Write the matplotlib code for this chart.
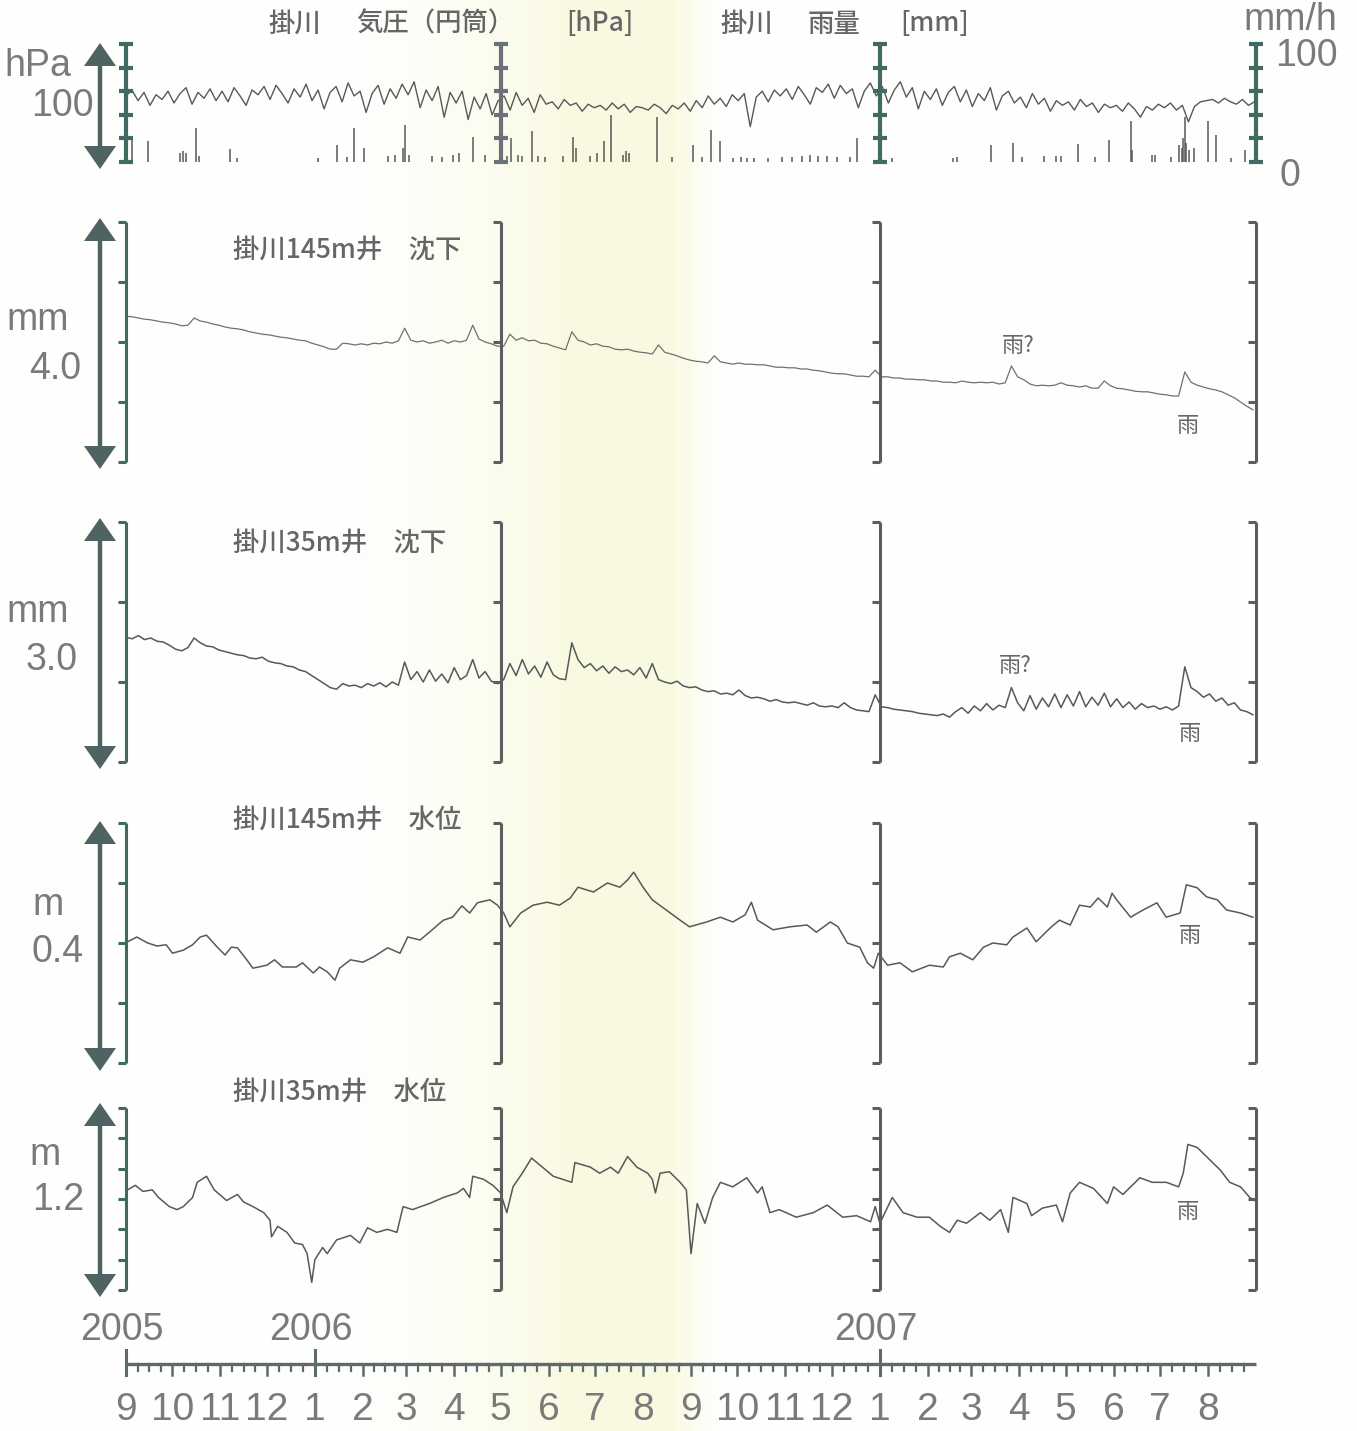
import numpy as np
import pandas as pd
import matplotlib
matplotlib.use("Agg")
import matplotlib.pyplot as plt
import matplotlib.dates as mdates

W, H = 1357, 1431
START = pd.Timestamp("2005-09-01")
END = pd.Timestamp("2007-09-01")

# ---------------- data ----------------
# Kakegawa barometric pressure [hPa], evenly sampled over the period
pressure_hpa = [
    1016, 1021, 1012, 1019, 1008, 1017, 1013, 1020,
    1010, 1018, 1023, 1009, 1019, 1014, 1022, 1012,
    1020, 1011, 1023, 1016, 1008, 1021, 1017, 1024,
    1013, 1025, 1018, 1010, 1022, 1015, 1026, 1012,
    1021, 1005, 1019, 1024, 1011, 1027, 1016, 1020,
    1002, 1018, 1025, 1009, 1022, 1014, 1026,
    1017, 1028, 1006, 1021, 1012, 1024, 998, 1019,
    1010, 1020, 996, 1015, 1005, 1018, 1000, 1012,
    1016, 1004, 1019, 1008, 1014, 1002, 1017, 1009,
    1011, 1005, 1013, 1008, 1010, 1003, 1009, 1006,
    1008, 1004, 1010, 1005, 1009, 1002, 1007, 1006,
    1004, 1009, 1006, 1001, 1008, 1005, 1010,
    1003, 1012, 1006, 1016, 1009, 1014, 1007, 1017,
    1012, 1018, 990, 1015, 1020, 1011, 1021, 1016,
    1022, 1013, 1024, 1017, 1009, 1023, 1019, 1026,
    1014, 1025, 1018, 1022, 1006, 1020, 1027, 1016,
    1024, 1010, 1021, 1028, 1015, 1023, 1005, 1020,
    1013, 1022, 1008, 1019, 1024, 1011, 1021,
    1007, 1018, 1012, 1023, 1004, 1016, 1020, 1010,
    1015, 1006, 1018, 1009, 1014, 1003, 1012, 1008,
    1011, 1004, 1013, 1007, 1010, 1002, 1009, 1006,
    1008, 1003, 1010, 1005, 998, 1007, 1004, 1009,
    1006, 1010, 1004, 1008, 994, 1007, 1011, 1012,
    1013, 1010, 1014, 1011, 1009, 1013, 1008, 1011,
]

# Kakegawa hourly rainfall peaks [mm/h]
rain_dates = [
    "2005-09-05", "2005-09-15", "2005-10-06", "2005-10-08", "2005-10-10", "2005-10-16",
    "2005-10-18", "2005-11-07", "2005-11-12", "2006-01-03", "2006-01-15", "2006-01-22",
    "2006-01-26", "2006-02-02", "2006-02-17", "2006-02-22", "2006-02-27", "2006-02-28",
    "2006-03-03", "2006-03-18", "2006-03-24", "2006-03-31", "2006-04-04", "2006-04-13",
    "2006-04-21", "2006-05-05", "2006-05-08", "2006-05-12", "2006-05-15", "2006-05-21",
    "2006-05-25", "2006-05-30", "2006-06-10", "2006-06-17", "2006-06-19", "2006-06-28",
    "2006-07-02", "2006-07-07", "2006-07-11", "2006-07-19", "2006-07-21", "2006-07-23",
    "2006-08-10", "2006-08-20", "2006-09-02", "2006-09-08", "2006-09-14", "2006-09-20",
    "2006-09-28", "2006-10-03", "2006-10-07", "2006-10-12", "2006-10-21", "2006-10-30",
    "2006-11-05", "2006-11-12", "2006-11-17", "2006-11-22", "2006-11-28", "2006-12-04",
    "2006-12-13", "2006-12-17", "2007-01-09", "2007-02-17", "2007-02-20", "2007-03-14",
    "2007-03-28", "2007-04-03", "2007-04-17", "2007-04-25", "2007-04-28", "2007-05-09",
    "2007-05-20", "2007-05-29", "2007-06-12", "2007-06-13", "2007-06-26", "2007-06-28",
    "2007-07-08", "2007-07-13", "2007-07-15", "2007-07-16", "2007-07-17", "2007-07-18",
    "2007-07-20", "2007-07-23", "2007-08-01", "2007-08-06", "2007-08-16", "2007-08-25",
]
rain_mmh = [
    19, 18, 8, 9, 8, 29,
    5, 11, 3, 3, 14, 4,
    29, 12, 5, 6, 12, 31,
    6, 5, 4, 6, 8, 21,
    6, 5, 20, 6, 5, 26,
    5, 4, 5, 21, 12, 5,
    8, 18, 40, 6, 9, 8,
    38, 4, 14, 4, 27, 18,
    3, 4, 3, 3, 3, 4,
    4, 5, 6, 5, 5, 4,
    4, 20, 3, 3, 4, 14,
    16, 4, 5, 5, 5, 15,
    4, 19, 35, 10, 6, 6,
    4, 14, 12, 20, 38, 16,
    10, 12, 35, 23, 3, 10,
]

# strain-meter subsidence, one reading every 4 days from START [mm]
sub145_mm = [
    2.43, 2.42, 2.40, 2.38, 2.37, 2.35, 2.33, 2.32, 2.30, 2.27, 2.28,
    2.40, 2.35, 2.33, 2.30, 2.28, 2.25, 2.23, 2.22, 2.20, 2.17,
    2.15, 2.13, 2.12, 2.10, 2.08, 2.07, 2.05, 2.03, 2.02, 1.98, 1.95, 1.92, 1.88,
    1.88, 1.98, 1.97, 1.95, 1.97, 1.95, 1.98, 1.97, 2.00, 1.98, 2.02,
    2.23, 2.03, 2.00, 2.02, 1.98, 2.00, 2.03, 1.98, 2.02, 2.00, 2.03, 2.28,
    2.05, 2.00, 1.97, 1.93, 1.93, 2.13, 2.03, 2.07, 2.02, 2.03, 1.98, 1.97, 1.93, 1.90,
    1.87, 2.17, 2.03, 2.00, 1.95, 1.97, 1.93, 1.92, 1.88, 1.87,
    1.88, 1.85, 1.83, 1.82, 1.80, 1.95, 1.83, 1.80, 1.77, 1.73, 1.70, 1.68, 1.67,
    1.65, 1.77, 1.67, 1.65, 1.63, 1.65, 1.63,
    1.63, 1.62, 1.62, 1.60, 1.58, 1.58, 1.57, 1.57,
    1.55, 1.55, 1.53, 1.52, 1.50, 1.48, 1.47, 1.47,
    1.45, 1.43, 1.43, 1.42, 1.53, 1.42, 1.42, 1.40, 1.40, 1.38, 1.38, 1.37,
    1.37, 1.35, 1.35, 1.33, 1.33, 1.32, 1.35, 1.33, 1.32, 1.33, 1.32, 1.33, 1.30, 1.32,
    1.60, 1.42, 1.37, 1.30, 1.27, 1.28, 1.27, 1.28,
    1.32, 1.28, 1.27, 1.25, 1.27, 1.23, 1.23,
    1.35, 1.27, 1.23, 1.22, 1.20, 1.18, 1.17,
    1.17, 1.15, 1.13, 1.12, 1.10, 1.10, 1.50,
    1.33, 1.28, 1.25, 1.22, 1.20, 1.17, 1.12, 1.07, 1.00, 0.93, 0.87,
]
sub35_mm = [
    1.56, 1.54, 1.58, 1.53, 1.55, 1.51, 1.50, 1.46, 1.41, 1.39, 1.43,
    1.55, 1.49, 1.45, 1.44, 1.40, 1.38, 1.36, 1.34, 1.33, 1.30,
    1.29, 1.31, 1.26, 1.24, 1.23, 1.20, 1.19, 1.15, 1.13, 1.08, 1.03, 0.98, 0.93,
    0.91, 0.98, 0.95, 0.96, 0.93, 0.98, 0.95, 0.99, 0.94, 1.00, 0.96,
    1.25, 1.03, 1.13, 1.00, 1.15, 1.01, 1.10, 0.99, 1.18, 1.03, 1.08, 1.28,
    1.05, 1.13, 1.01, 0.98, 1.03, 1.23, 1.08, 1.28, 1.10, 1.20, 1.06, 1.25, 1.09, 1.04,
    1.03, 1.49, 1.28, 1.18, 1.23, 1.14, 1.20, 1.11, 1.19, 1.13,
    1.15, 1.09, 1.18, 1.05, 1.23, 1.03, 1.00, 0.98, 1.01, 0.95, 0.93, 0.94, 0.90,
    0.88, 0.89, 0.85, 0.86, 0.84, 0.90, 0.83,
    0.80, 0.81, 0.79, 0.76, 0.78, 0.75, 0.74, 0.75,
    0.73, 0.71, 0.74, 0.70, 0.69, 0.70, 0.68, 0.74,
    0.68, 0.65, 0.64, 0.63, 0.84, 0.69, 0.68, 0.66, 0.65, 0.64, 0.63, 0.61,
    0.60, 0.59, 0.58, 0.60, 0.56, 0.63, 0.68, 0.61, 0.70, 0.64, 0.73, 0.65, 0.71, 0.68,
    0.93, 0.74, 0.64, 0.83, 0.66, 0.80, 0.69, 0.85,
    0.68, 0.84, 0.70, 0.88, 0.69, 0.81, 0.71,
    0.86, 0.69, 0.79, 0.68, 0.75, 0.66, 0.73,
    0.68, 0.70, 0.66, 0.69, 0.65, 0.70, 1.19,
    0.93, 0.88, 0.81, 0.85, 0.76, 0.80, 0.71, 0.74, 0.65, 0.63, 0.59,
]

# well water levels: day since START and level [m]
wl145_day = [
    1, 7, 14, 20, 26, 30, 37, 43, 48, 52, 59, 64, 68, 72, 78, 82, 91, 96, 101, 110,
    114, 121, 125, 130, 135, 138, 145, 153, 160, 169, 177, 182, 190, 196, 205, 211,
    217, 222, 227, 235, 240, 244, 248, 255, 263, 272, 280, 287, 292, 302, 311, 319,
    324, 328, 334, 340, 349, 358, 364, 375, 384, 392, 400, 404, 408, 418, 429, 440,
    446, 455, 460, 466, 474, 479, 483, 486, 492, 500, 508, 519, 528, 532, 539, 547,
    554, 560, 569, 573, 582, 588, 597, 603, 610, 616, 623, 628, 634, 637, 640, 649,
    657, 666, 672, 681, 685, 692, 698, 705, 711, 720, 728,
]
wl145_m = [
    0.202, 0.210, 0.200, 0.195, 0.197, 0.183, 0.188, 0.197, 0.210, 0.213, 0.193, 0.180,
    0.193, 0.192, 0.172, 0.158, 0.163, 0.172, 0.160, 0.160, 0.167, 0.150, 0.160, 0.152,
    0.138, 0.158, 0.172, 0.168, 0.177, 0.192, 0.183, 0.210, 0.205, 0.218, 0.238, 0.243,
    0.262, 0.250, 0.267, 0.272, 0.263, 0.250, 0.227, 0.250, 0.263, 0.268, 0.263, 0.275,
    0.293, 0.285, 0.300, 0.293, 0.305, 0.318, 0.293, 0.272, 0.255, 0.238, 0.227, 0.235,
    0.243, 0.235, 0.247, 0.268, 0.238, 0.222, 0.227, 0.230, 0.218, 0.235, 0.227, 0.200,
    0.193, 0.167, 0.158, 0.183, 0.163, 0.167, 0.152, 0.163, 0.160, 0.177, 0.183, 0.172,
    0.193, 0.200, 0.197, 0.210, 0.225, 0.202, 0.225, 0.238, 0.230, 0.263, 0.260, 0.275,
    0.260, 0.283, 0.272, 0.243, 0.255, 0.267, 0.243, 0.250, 0.297, 0.292, 0.277, 0.272,
    0.255, 0.250, 0.243,
]
wl35_day = [
    1, 6, 11, 17, 21, 28, 33, 37, 43, 46, 52, 57, 65, 72, 76, 82, 89, 93, 94, 98,
    104, 109, 114, 117, 120, 122, 127, 130, 136, 145, 151, 156, 162, 169, 175, 179,
    185, 196, 205, 214, 218, 222, 224, 231, 237, 242, 246, 250, 256, 262, 269, 276,
    282, 288, 290, 300, 306, 313, 318, 324, 330, 337, 340, 342, 345, 351, 358, 362,
    365, 369, 374, 379, 384, 392, 401, 408, 411, 416, 422, 433, 444, 453, 463, 472,
    481, 484, 487, 495, 502, 511, 519, 526, 532, 537, 543, 552, 558, 565, 570, 573,
    582, 585, 592, 601, 605, 610, 616, 625, 634, 638, 644, 650, 655, 663, 672, 680,
    683, 686, 692, 696, 700, 707, 713, 720, 726, 729,
]
wl35_m = [
    0.66, 0.69, 0.65, 0.66, 0.61, 0.55, 0.53, 0.55, 0.61, 0.71, 0.75, 0.66, 0.59, 0.63,
    0.58, 0.55, 0.51, 0.46, 0.35, 0.42, 0.38, 0.31, 0.30, 0.24, 0.05, 0.20, 0.28, 0.24,
    0.33, 0.36, 0.31, 0.41, 0.38, 0.40, 0.38, 0.55, 0.53, 0.57, 0.61, 0.64, 0.67, 0.61,
    0.75, 0.73, 0.69, 0.64, 0.51, 0.68, 0.77, 0.87, 0.81, 0.75, 0.73, 0.71, 0.84, 0.81,
    0.77, 0.81, 0.77, 0.88, 0.81, 0.77, 0.73, 0.64, 0.77, 0.78, 0.71, 0.66, 0.24, 0.57,
    0.44, 0.61, 0.71, 0.68, 0.74, 0.64, 0.68, 0.51, 0.53, 0.48, 0.51, 0.56, 0.48, 0.49,
    0.45, 0.55, 0.44, 0.61, 0.51, 0.48, 0.48, 0.42, 0.38, 0.46, 0.44, 0.51, 0.46, 0.53,
    0.38, 0.61, 0.57, 0.49, 0.54, 0.56, 0.45, 0.64, 0.71, 0.67, 0.57, 0.68, 0.63, 0.69,
    0.74, 0.71, 0.71, 0.68, 0.77, 0.96, 0.94, 0.90, 0.86, 0.79, 0.71, 0.68, 0.61, 0.59,
]

# full span of each panel's vertical axis (arrow length)
SPAN_HPA = 100
SPAN_RAIN = 100
SPAN_SUB145 = 4.0
SPAN_SUB35 = 3.0
SPAN_WL145 = 0.4
SPAN_WL35 = 1.2
P_BASE = 960

# ---------------- figure ----------------
plt.rcParams["font.family"] = ["Liberation Sans", "DejaVu Sans"]
JP = ["Noto Sans CJK JP", "DejaVu Sans"]
NARROW = ["Liberation Sans Narrow", "Liberation Sans"]

TEAL = "#3f6b63"
BRK = "#5b5e60"
ARROW = "#4f6363"
LINE = "#585858"
TXT = "#7a7a7a"
JPTXT = "#666666"

fig = plt.figure(figsize=(W / 100, H / 100), dpi=100)
fig.patch.set_facecolor("#fefefc")


def add_panel(top, bottom, ylim):
    ax = fig.add_axes([126 / W, 1 - bottom / H, (1256 - 126) / W, (bottom - top) / H])
    ax.set_xlim(START, END)
    ax.set_ylim(*ylim)
    ax.axis("off")
    ax.patch.set_alpha(0)
    ax.set_zorder(2)
    return ax


# soft yellow band behind everything
bg = fig.add_axes([0, 0, 1, 1])
bg.set_xlim(0, W)
bg.set_ylim(0, H)
bg.axis("off")
bg.set_zorder(0)
xs = np.arange(300, 740)
alpha = np.clip((xs - 350) / 220, 0, 1) ** 1.6 * np.clip((712 - xs) / 40, 0, 1) * 0.85
band = np.zeros((1, len(xs), 4))
band[..., 0] = 0.98
band[..., 1] = 0.98
band[..., 2] = 0.87
band[..., 3] = alpha
bg.imshow(band, extent=(300, 740, 0, H), aspect="auto", interpolation="bilinear")

ax1 = add_panel(44, 162, (P_BASE, P_BASE + SPAN_HPA))
ax1r = add_panel(44, 162, (0, SPAN_RAIN))
ax2 = add_panel(222, 462, (0, SPAN_SUB145))
ax3 = add_panel(522, 762, (0, SPAN_SUB35))
ax4 = add_panel(823, 1063, (0, SPAN_WL145))
ax5 = add_panel(1108, 1290, (0, SPAN_WL35))

# pressure and rain
p_dates = START + pd.to_timedelta(np.linspace(0, 729, len(pressure_hpa)), unit="D")
ax1.plot(p_dates, pressure_hpa, color=LINE, lw=1.0)
ax1r.vlines(pd.to_datetime(rain_dates), 0, rain_mmh, color=LINE, lw=1.1)

# subsidence
s_dates = START + pd.to_timedelta(np.arange(len(sub145_mm)) * 4, unit="D")
ax2.plot(s_dates, sub145_mm, color="#707070", lw=0.9)
s35_dates = START + pd.to_timedelta(np.arange(len(sub35_mm)) * 4, unit="D")
ax3.plot(s35_dates, sub35_mm, color="#505c5c", lw=1.1)

# water levels
ax4.plot(START + pd.to_timedelta(wl145_day, unit="D"), wl145_m, color=LINE, lw=1.1)
ax5.plot(START + pd.to_timedelta(wl35_day, unit="D"), wl35_m, color=LINE, lw=1.1)

# overlay in pixel (display) coordinates
ov = fig.add_axes([0, 0, 1, 1])
ov.set_xlim(0, W)
ov.set_ylim(0, H)
ov.axis("off")
ov.patch.set_alpha(0)
ov.set_zorder(3)


def to_px(ax, d, v):
    return ax.transData.transform((mdates.date2num(pd.Timestamp(d)), v))


def bracket(ax, d, ticks, color, lw, both=False, cap=8):
    lo, hi = ax.get_ylim()
    x, y0 = to_px(ax, d, lo)
    _, y1 = to_px(ax, d, hi)
    ov.plot([x, x], [y0, y1], color=color, lw=lw, solid_capstyle="butt")
    for v in [lo, hi] + list(ticks):
        y = to_px(ax, d, v)[1]
        ov.plot([x - cap, x + (cap if both else 0)], [y, y], color=color, lw=lw,
                solid_capstyle="butt")


def arrow(x, ytop, ybot, color=ARROW):
    yt, yb = H - ytop, H - ybot
    hl, hw = 23, 16
    ov.plot([x, x], [yb + hl - 2, yt - hl + 2], color=color, lw=3.2, solid_capstyle="butt")
    ov.fill([x - hw, x, x + hw], [yt - hl, yt, yt - hl], color=color, lw=0)
    ov.fill([x - hw, x, x + hw], [yb + hl, yb, yb + hl], color=color, lw=0)


bracket_dates = ["2005-09-01", "2006-05-01", "2007-01-01", "2007-09-01"]
for i, d in enumerate(bracket_dates):
    bracket(ax1, d, np.arange(P_BASE + 20, P_BASE + SPAN_HPA, 20),
            "#6a7278" if i == 1 else TEAL, 3.0, both=True, cap=7)
    for ax, tk in [(ax2, [1, 2, 3]), (ax3, [1, 2]), (ax4, [0.1, 0.2, 0.3]),
                   (ax5, [0.2, 0.4, 0.6, 0.8, 1.0])]:
        bracket(ax, d, tk, TEAL if i == 0 else BRK, 2.2)

arrow(100, 43, 169)
arrow(100, 218, 469)
arrow(100, 518, 769)
arrow(100, 821, 1071)
arrow(100, 1103, 1297)


def label(x, y, s, size=27, **kw):
    ov.text(x, H - y, s, ha="center", va="center", fontsize=size, color=TXT, **kw)


label(38, 66, "hPa")
label(62, 106, f"{SPAN_HPA:d}")
label(1290, 20, "mm/h")
label(1306, 56, f"{SPAN_RAIN:d}")
label(1290, 176, "0")
label(38, 320, "mm")
label(55, 369, f"{SPAN_SUB145:.1f}")
label(38, 612, "mm")
label(52, 660, f"{SPAN_SUB35:.1f}")
label(48, 905, "m")
label(58, 952, f"{SPAN_WL145:.1f}")
label(45, 1155, "m")
label(58, 1200, f"{SPAN_WL35:.1f}")

# Japanese titles
for s, x, y in [("掛川", 268, 24), ("気圧（円筒）", 356, 24), ("[hPa]", 566, 24),
                ("掛川", 720, 24), ("雨量", 808, 24), ("[mm]", 900, 24),
                ("掛川145m井　沈下", 233, 250), ("掛川35m井　沈下", 233, 543),
                ("掛川145m井　水位", 233, 820), ("掛川35m井　水位", 233, 1092)]:
    ov.text(x, H - y, s, ha="left", va="center", fontsize=19, color=JPTXT, family=JP,
            fontweight="medium")

for s, x, y in [("雨?", 1018, 345), ("雨", 1188, 425), ("雨?", 1015, 666),
                ("雨", 1190, 733), ("雨", 1190, 935), ("雨", 1188, 1212)]:
    ov.text(x, H - y, s, ha="center", va="center", fontsize=16, color=JPTXT, family=JP)

# time axis at the bottom
AXC = "#5d6b6e"
yaxis = H - 1364
x0 = to_px(ax5, START, 0)[0]
x1 = to_px(ax5, END, 0)[0]
ov.plot([x0, x1], [yaxis, yaxis], color=AXC, lw=2.4, solid_capstyle="butt")
months = pd.date_range(START, END, freq="MS")
for m0, m1 in zip(months[:-1], months[1:]):
    xm = to_px(ax5, m0, 0)[0]
    ov.plot([xm, xm], [yaxis, yaxis - 11], color=AXC, lw=1.8)
    step = (m1 - m0) / 4
    for k in range(1, 4):
        xk = to_px(ax5, m0 + step * k, 0)[0]
        ov.plot([xk, xk], [yaxis, yaxis - 7], color=AXC, lw=1.6)
    ov.text(xm, H - 1410, str(m0.month), ha="center", va="center", fontsize=28,
            color=TXT, family=NARROW)
for yr in ["2005-09-01", "2006-01-01", "2007-01-01"]:
    xy = to_px(ax5, yr, 0)[0]
    ov.plot([xy, xy], [yaxis + 14, yaxis - 11], color=AXC, lw=2.2)
    ov.text(xy - 4, H - 1330, yr[:4], ha="center", va="center", fontsize=27,
            color=TXT, family=NARROW)

fig.savefig("out.png", dpi=100, facecolor=fig.get_facecolor())
